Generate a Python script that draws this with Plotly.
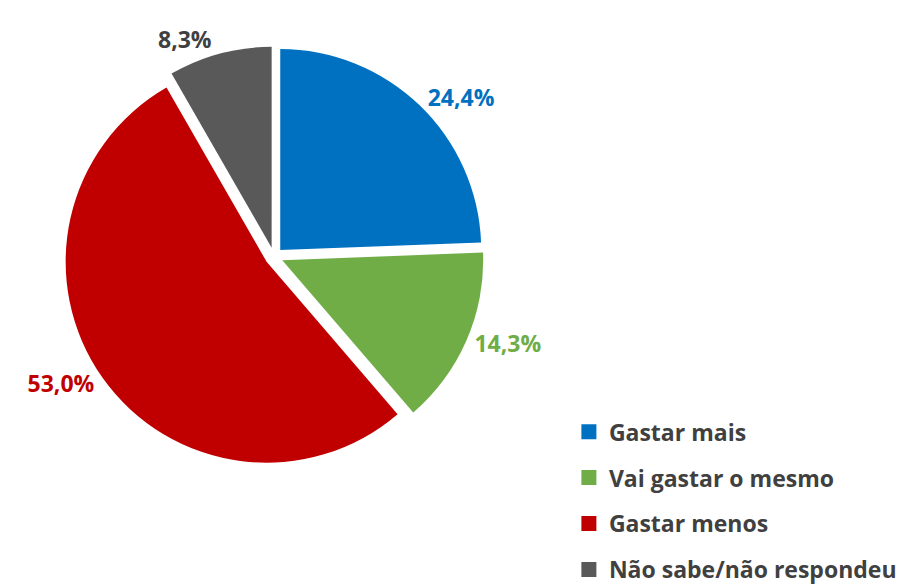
import plotly.graph_objects as go

categories = ["Gastar mais", "Vai gastar o mesmo", "Gastar menos", "Não sabe/não respondeu"]
values = [24.4, 14.3, 53.0, 8.3]
colors = ["#0070C0", "#70AD47", "#C00000", "#595959"]
label_colors = ["#0070C0", "#70AD47", "#C00000", "#404040"]

FONT = "Open Sans"

fig = go.Figure()
fig.add_trace(go.Pie(
    labels=categories, values=values, sort=False, direction="clockwise", rotation=0,
    marker=dict(colors=colors, line=dict(color="white", width=0)),
    pull=0.045,
    texttemplate="<b>%{value:.1f}%</b>", textposition="outside",
    outsidetextfont=dict(family=FONT, size=23, color=label_colors),
    showlegend=False, hoverinfo="skip", automargin=False,
    domain=dict(x=[0.0608, 0.5168], y=[0.2162, 0.9341]),
))
for i, (c, col) in enumerate(zip(categories, colors)):
    fig.add_trace(go.Scatter(x=[None], y=[None], mode="markers", name=f"<b>{c}</b>",
                             marker=dict(symbol="square", size=15, color=col),
                             legendgroup=f"g{i}"))

fig.update_layout(
    width=921, height=585, margin=dict(l=0, r=0, t=0, b=0),
    paper_bgcolor="white", plot_bgcolor="white", separators=",.",
    xaxis=dict(visible=False), yaxis=dict(visible=False),
    legend=dict(x=0.609, y=0.003, xanchor="left", yanchor="bottom",
                font=dict(family=FONT, size=23, color="#404040"),
                tracegroupgap=13, itemwidth=30, bgcolor="rgba(0,0,0,0)"),
)
fig.write_html("out.html")
